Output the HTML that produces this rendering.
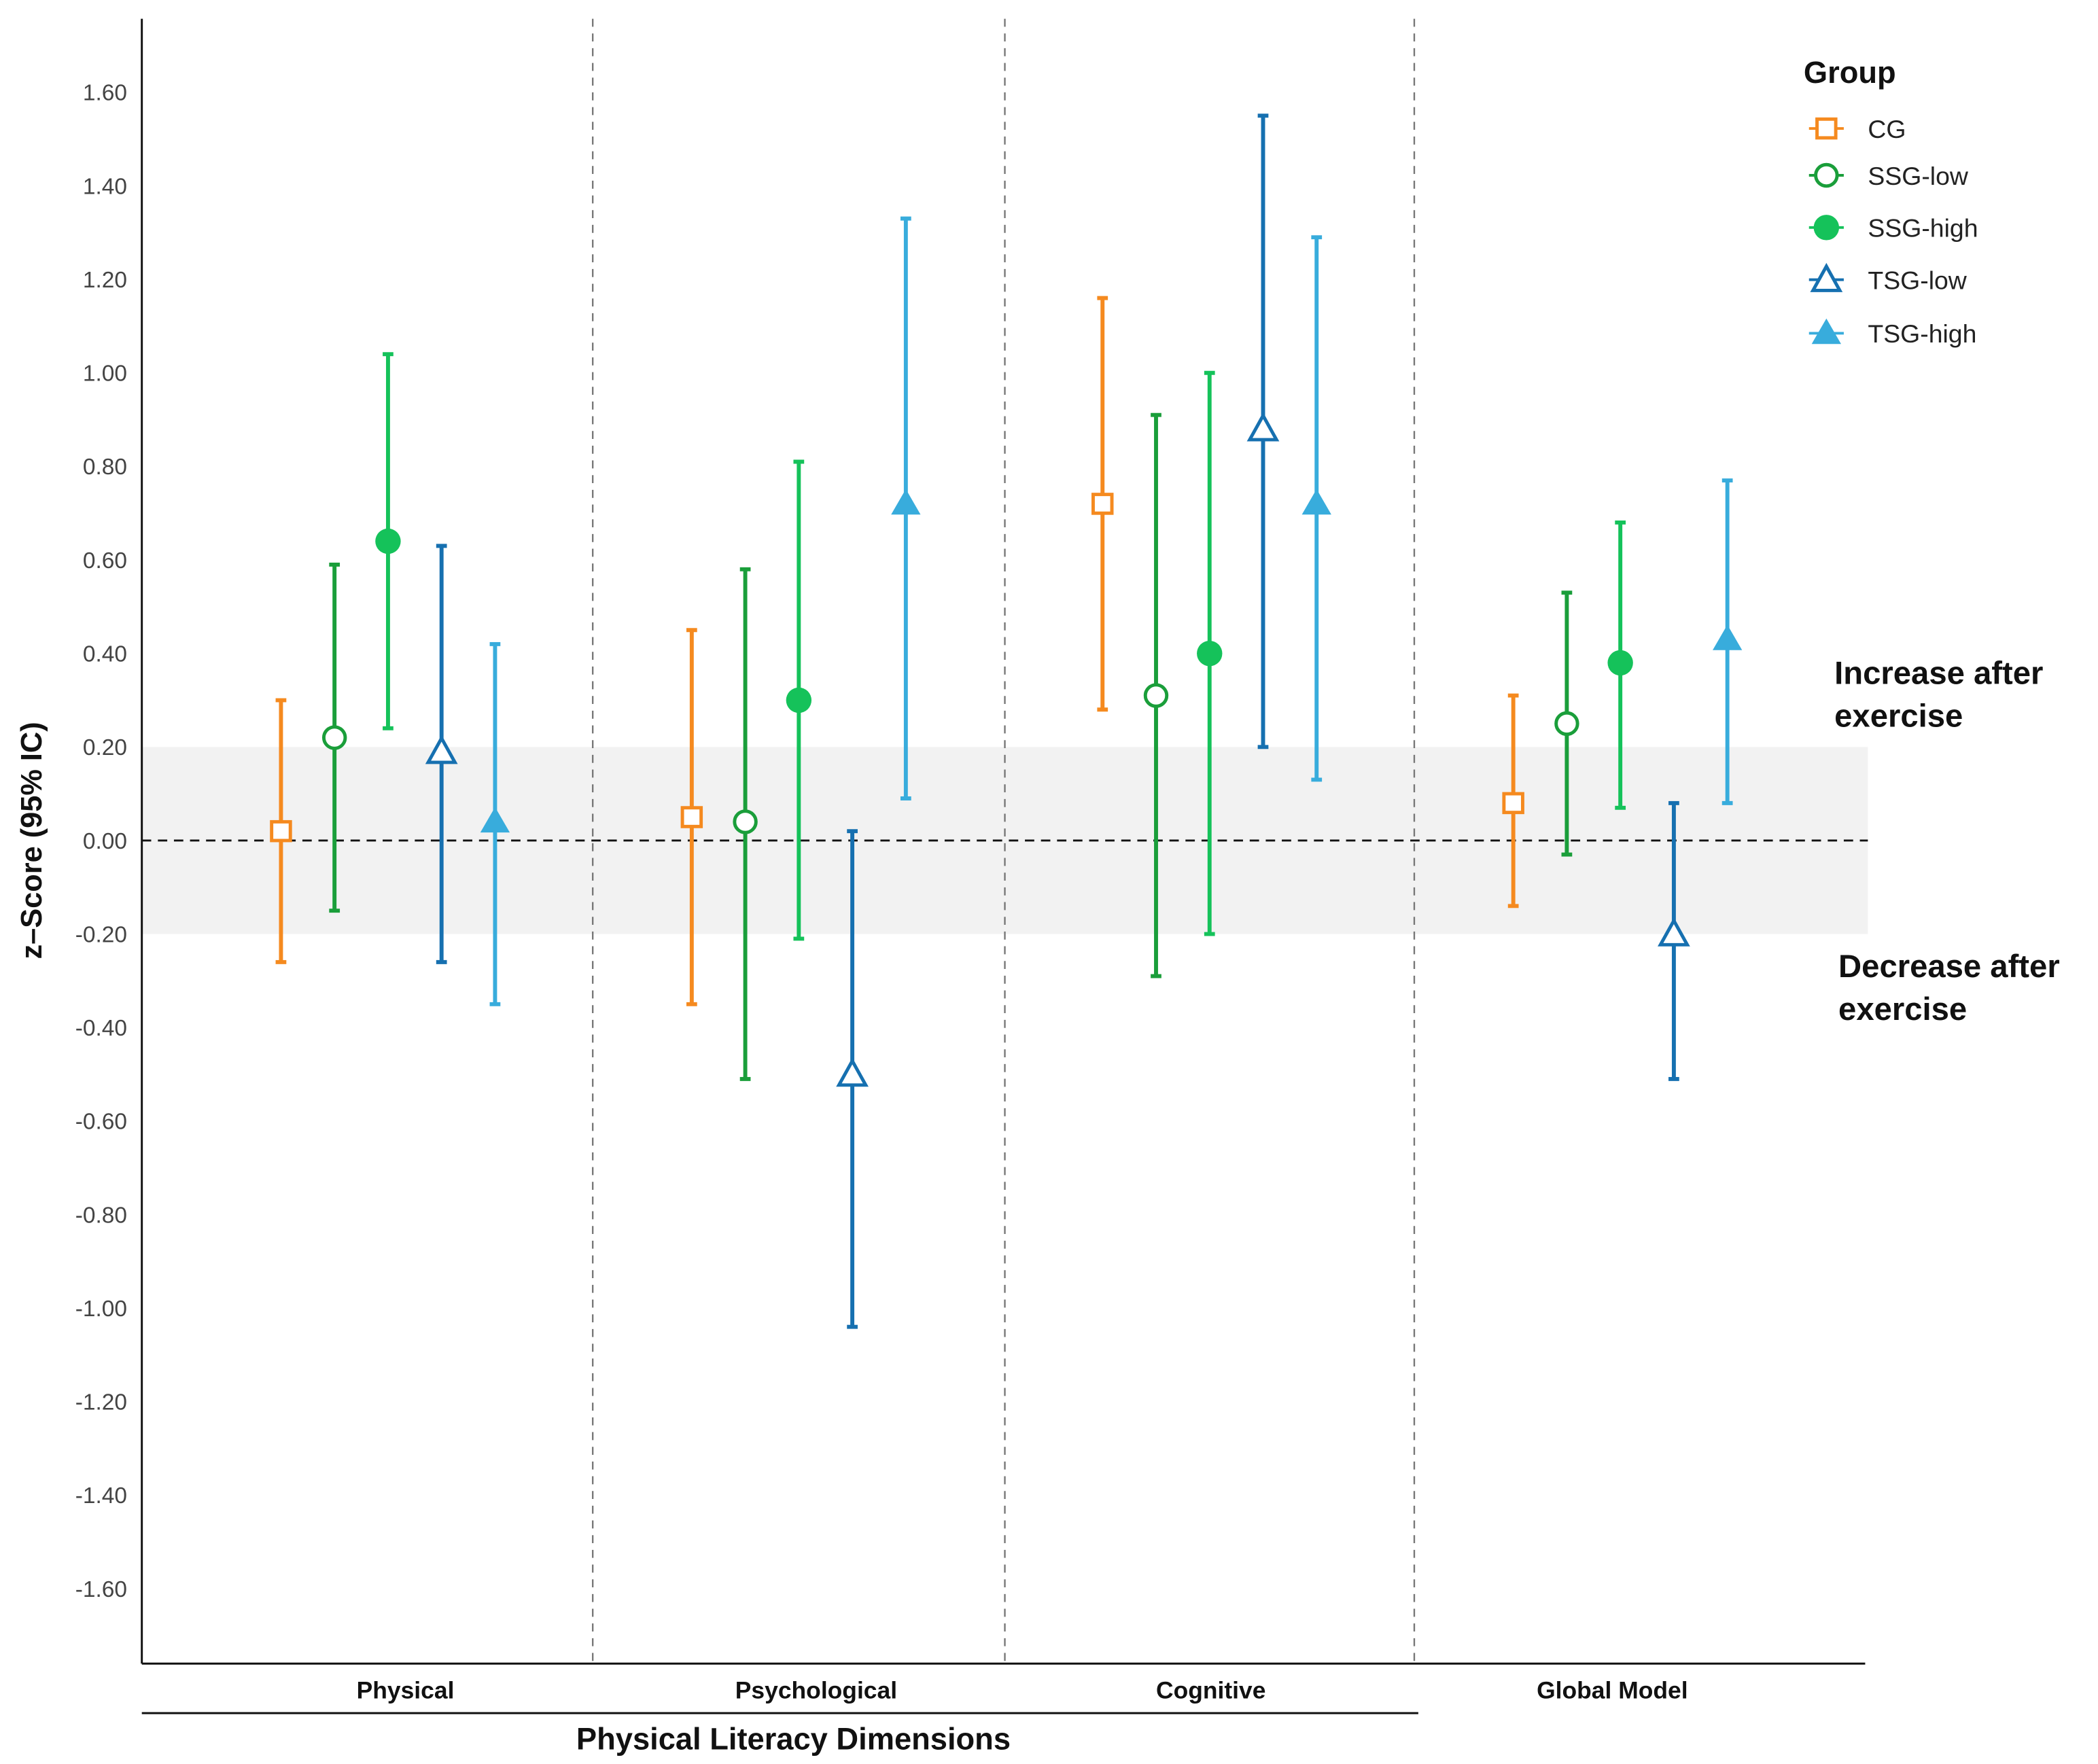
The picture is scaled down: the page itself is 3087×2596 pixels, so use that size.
<!DOCTYPE html>
<html><head><meta charset="utf-8"><style>
html,body{margin:0;padding:0;background:#fff}
svg{display:block}
text{font-family:"Liberation Sans",Arial,sans-serif}
</style></head><body>
<svg id="chart" width="3087" height="2596" viewBox="0 0 1568 1318" preserveAspectRatio="none" xmlns="http://www.w3.org/2000/svg">
<rect width="1568" height="1318" fill="#fff"/>
<g id="plot"></g>
</svg>
<script>
const categories = ["Physical","Psychological","Cognitive","Global Model"];
const groups = ["CG","SSG-low","SSG-high","TSG-low","TSG-high"];
const estCG = [0.02,0.05,0.72,0.08];
const lowCG = [-0.26,-0.35,0.28,-0.14];
const highCG = [0.30,0.45,1.16,0.31];
const estSSGlow = [0.22,0.04,0.31,0.25];
const lowSSGlow = [-0.15,-0.51,-0.29,-0.03];
const highSSGlow = [0.59,0.58,0.91,0.53];
const estSSGhigh = [0.64,0.30,0.40,0.38];
const lowSSGhigh = [0.24,-0.21,-0.20,0.07];
const highSSGhigh = [1.04,0.81,1.00,0.68];
const estTSGlow = [0.19,-0.50,0.88,-0.20];
const lowTSGlow = [-0.26,-1.04,0.20,-0.51];
const highTSGlow = [0.63,0.02,1.55,0.08];
const estTSGhigh = [0.04,0.72,0.72,0.43];
const lowTSGhigh = [-0.35,0.09,0.13,0.08];
const highTSGhigh = [0.42,1.33,1.29,0.77];
const yTicks = [1.6,1.4,1.2,1.0,0.8,0.6,0.4,0.2,0,-0.2,-0.4,-0.6,-0.8,-1.0,-1.2,-1.4,-1.6];

const NS="http://www.w3.org/2000/svg";
const g=document.getElementById('plot');
function el(t,a,p){const e=document.createElementNS(NS,t);for(const k in a)e.setAttribute(k,a[k]);(p||g).appendChild(e);return e;}
const y=v=>628-v*349.4;
const catCenter=[290,597,904,1211];
const offsets=[-80,-40,0,40,80];
const x=(ci,gi)=>catCenter[ci]+offsets[gi];
const colors=["#f58a1f","#1a9e3a","#15c25a","#1670b0","#38acdc"];
const series=[[estCG,lowCG,highCG],[estSSGlow,lowSSGlow,highSSGlow],[estSSGhigh,lowSSGhigh,highSSGhigh],[estTSGlow,lowTSGlow,highTSGlow],[estTSGhigh,lowTSGhigh,highTSGhigh]];

// band
let band=el('rect',{x:106,y:y(0.2),width:1290,height:y(-0.2)-y(0.2),fill:'#f2f2f2'});


// vertical separators
[443,751,1057].forEach(vx=>{
  const l=el('line',{x1:vx,x2:vx,y1:14,y2:1243,stroke:'#777','stroke-width':1.2,'stroke-dasharray':'6,5'});
  
  
});
// zero line
let zl=el('line',{x1:106,x2:1396,y1:y(0),y2:y(0),stroke:'#111','stroke-width':1.5,'stroke-dasharray':'7,5'});


// axes
let ya=el('line',{x1:106,x2:106,y1:14,y2:1243,stroke:'#111','stroke-width':1.5});


let xa=el('line',{x1:106,x2:1394,y1:1243,y2:1243,stroke:'#111','stroke-width':1.5});


yTicks.forEach(v=>{
  const t=el('text',{x:95,y:y(v)+6,'text-anchor':'end','font-size':17,fill:'#444'});
  t.textContent=v.toFixed(2);
  
  
});
categories.forEach((c,i)=>{
  const t=el('text',{x:[303,610,905,1205][i],y:1269,'text-anchor':'middle','font-size':18,'font-weight':'bold',fill:'#111'});
  t.textContent=c;
  
  
});
let bl=el('line',{x1:106,x2:1060,y1:1280,y2:1280,stroke:'#111','stroke-width':1.5});


let xt=el('text',{x:593,y:1307,'text-anchor':'middle','font-size':23,'font-weight':'bold',fill:'#111'});
xt.textContent='Physical Literacy Dimensions';


let yt=el('text',{x:0,y:0,transform:'translate(31,628) rotate(-90)','text-anchor':'middle','font-size':22,'font-weight':'bold',fill:'#111'});
yt.textContent='z–Score (95% IC)';



function marker(gi,cx,cy,parent){
  const c=colors[gi];let m;
  if(gi===0) m=el('rect',{x:cx-7,y:cy-7,width:14,height:14,fill:'#fff',stroke:c,'stroke-width':2.5},parent);
  else if(gi===1) m=el('circle',{cx:cx,cy:cy,r:8,fill:'#fff',stroke:c,'stroke-width':2.5},parent);
  else if(gi===2) m=el('circle',{cx:cx,cy:cy,r:9.5,fill:c},parent);
  else if(gi===3) m=el('polygon',{points:`${cx},${cy-10} ${cx-10},${cy+8} ${cx+10},${cy+8}`,fill:'#fff',stroke:c,'stroke-width':2.5},parent);
  else m=el('polygon',{points:`${cx},${cy-11} ${cx-11},${cy+8} ${cx+11},${cy+8}`,fill:c},parent);
  return m;
}
series.forEach((s,gi)=>{
  categories.forEach((c,ci)=>{
    const cx=x(ci,gi),col=colors[gi];
    const grp=el('g',{});
    
    
    el('line',{x1:cx,x2:cx,y1:y(s[1][ci]),y2:y(s[2][ci]),stroke:col,'stroke-width':3},grp);
    el('line',{x1:cx-4,x2:cx+4,y1:y(s[1][ci]),y2:y(s[1][ci]),stroke:col,'stroke-width':3},grp);
    el('line',{x1:cx-4,x2:cx+4,y1:y(s[2][ci]),y2:y(s[2][ci]),stroke:col,'stroke-width':3},grp);
    const m=marker(gi,cx,y(s[0][ci]),grp);
    
    
  });
});
// legend
const lg=el('g',{});


let lt=el('text',{x:1348,y:62,'font-size':23,'font-weight':'bold',fill:'#111'},lg);
lt.textContent='Group';
const ly=[96,131,170,209,249];
groups.forEach((gname,gi)=>{
  const e=el('g',{},lg);
  
  
  el('line',{x1:1352,x2:1378,y1:ly[gi],y2:ly[gi],stroke:colors[gi],'stroke-width':2},e);
  marker(gi,1365,ly[gi],e);
  const t=el('text',{x:1396,y:ly[gi]+7,'font-size':19,fill:'#222'},e);
  t.textContent=gname;
});
// annotations
function ann(lines,x0,y0,name){
  const t=el('text',{x:x0,y:y0,'font-size':24,'font-weight':'bold',fill:'#111'});
  
  
  lines.forEach((l,i)=>{const s=el('tspan',{x:x0,dy:i?32:0},t);s.textContent=l;});
}
ann(['Increase after','exercise'],1371,511,'increase-annotation');
ann(['Decrease after','exercise'],1374,730,'decrease-annotation');
</script>
</body></html>
